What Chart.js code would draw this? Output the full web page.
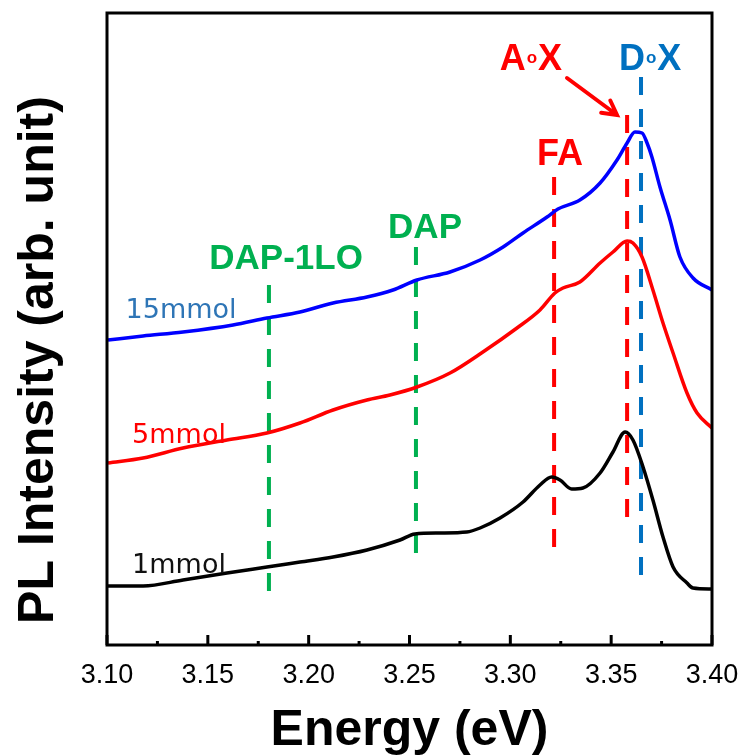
<!DOCTYPE html>
<html>
<head>
<meta charset="utf-8">
<script src="https://cdn.jsdelivr.net/npm/chart.js@4.4.1/dist/chart.umd.min.js"></script>
<style>
  html, body { margin: 0; padding: 0; background: #fff; }
  #wrap { width: 742px; height: 756px; }
</style>
</head>
<body>
<div id="wrap"><canvas id="pl"></canvas></div>
<script>
// ─── DATA (PL spectra, arb. units, curves offset as in the figure) ──
const e1 = [3.1005, 3.1179, 3.1377, 3.1595, 3.1793, 3.1957, 3.2121, 3.2289, 3.2453, 3.2527, 3.2651, 3.2784, 3.2850, 3.2949, 3.3063, 3.3147, 3.3205, 3.3246, 3.3304, 3.3360, 3.3445, 3.3509, 3.3569, 3.3608, 3.3658, 3.3707, 3.3757, 3.3807, 3.3876, 3.3906, 3.4000];
const i1 = [59, 59, 65, 72, 78, 83, 88, 95, 105, 111, 112, 113, 117, 127, 143, 160, 168, 165, 156, 157, 172, 193, 213, 205, 178, 145, 108, 78, 62, 57, 56];

const e5 = [3.1005, 3.1179, 3.1377, 3.1595, 3.1793, 3.1957, 3.2121, 3.2289, 3.2403, 3.2537, 3.2701, 3.2864, 3.3033, 3.3147, 3.3221, 3.3261, 3.3345, 3.3445, 3.3509, 3.3579, 3.3608, 3.3653, 3.3707, 3.3757, 3.3807, 3.3876, 3.3926, 3.4000];
const i5 = [182, 187, 197, 205, 212, 222, 235, 245, 250, 258, 272, 293, 317, 335, 352, 357, 363, 382, 393, 404, 402, 388, 355, 322, 292, 252, 232, 217];

const e15 = [3.1005, 3.1179, 3.1377, 3.1625, 3.1793, 3.1957, 3.2121, 3.2289, 3.2418, 3.2537, 3.2701, 3.2850, 3.2964, 3.3063, 3.3182, 3.3236, 3.3345, 3.3445, 3.3529, 3.3579, 3.3618, 3.3653, 3.3678, 3.3702, 3.3742, 3.3792, 3.3841, 3.3906, 3.4000];
const i15 = [305, 309, 313, 320, 327, 333, 342, 348, 355, 365, 373, 385, 398, 412, 428, 436, 445, 462, 485, 502, 513, 512, 502, 488, 458, 425, 388, 367, 355];

const seriesNames = ['15mmol', '5mmol', '1mmol'];

// emission lines (dashed markers)
const markerNames = ['DAP-1LO', 'DAP', 'FA', 'A°X', 'D°X'];
const markerEnergy = [3.1803, 3.2532, 3.3217, 3.3579, 3.3648];
const markerTop = [360, 398, 468, 530, 568];
const markerBottom = [47, 85, 92, 119, 65];

const xTickLabels = ['3.10', '3.15', '3.20', '3.25', '3.30', '3.35', '3.40'];

// ─── STYLE / PLACEMENT ─────────────────────────────────────────
const FONT = "'Liberation Sans', Arial, sans-serif";
const seriesColors = ['#0000ff', '#ff0000', '#000000'];
const seriesLabelColors = ['#2e75b6', '#ff0000', '#111111'];
const seriesLabelPos = [[3.1367, 334], [3.1357, 209], [3.1357, 79]];
const markerColors = ['#00b050', '#00b050', '#ff0000', '#ff0000', '#0070c0'];
const markerLabelPos = [[3.1888, 386], [3.2577, 417], [3.3246, 490], [3.3102, 585], [3.3693, 585]];
const arrowFrom = [3.3281, 567];
const arrowTo = [3.3529, 530];

const toXY = (xs, ys) => xs.map((x, k) => ({ x, y: ys[k] }));

const datasets = [
  { data: toXY(e15, i15), borderColor: seriesColors[0] },
  { data: toXY(e5, i5), borderColor: seriesColors[1] },
  { data: toXY(e1, i1), borderColor: seriesColors[2] },
].map((d, k) => ({
  ...d,
  label: seriesNames[k],
  borderWidth: 3.5,
  pointRadius: 0,
  cubicInterpolationMode: 'monotone',
  fill: false,
}));

markerNames.forEach((name, k) => {
  datasets.push({
    label: name,
    data: [{ x: markerEnergy[k], y: markerTop[k] }, { x: markerEnergy[k], y: markerBottom[k] }],
    borderColor: markerColors[k],
    borderWidth: 4,
    borderDash: [18, 14],
    pointRadius: 0,
    fill: false,
  });
});

// frame, inward ticks, annotations
const decor = {
  id: 'decor',
  afterDraw(chart) {
    const { ctx, chartArea: a, scales: { x, y } } = chart;
    ctx.save();
    ctx.strokeStyle = '#000';
    ctx.lineWidth = 3;
    ctx.strokeRect(a.left, a.top, a.right - a.left, a.bottom - a.top);

    // inward ticks on the bottom axis
    x.ticks.forEach((t, k) => {
      const px = x.getPixelForValue(t.value);
      ctx.beginPath();
      ctx.moveTo(px, a.bottom);
      ctx.lineTo(px, a.bottom - (k % 2 === 0 ? 10 : 4));
      ctx.stroke();
    });

    ctx.textAlign = 'center';
    ctx.textBaseline = 'middle';

    // curve labels
    ctx.font = `27px 'DejaVu Sans', sans-serif`;
    seriesNames.forEach((s, k) => {
      ctx.fillStyle = seriesLabelColors[k];
      ctx.fillText(s, x.getPixelForValue(seriesLabelPos[k][0]), y.getPixelForValue(seriesLabelPos[k][1]));
    });

    // marker labels (A°X / D°X drawn with a small raised "o")
    markerNames.forEach((name, k) => {
      const px = x.getPixelForValue(markerLabelPos[k][0]);
      const py = y.getPixelForValue(markerLabelPos[k][1]);
      ctx.fillStyle = markerColors[k];
      if (name.includes('°')) {
        const [a1, b1] = name.split('°');
        ctx.font = `bold 36px ${FONT}`;
        const wa = ctx.measureText(a1).width, wb = ctx.measureText(b1).width;
        ctx.font = `bold 17px ${FONT}`;
        const wo = ctx.measureText('o').width + 2;
        let cx = px - (wa + wo + wb) / 2;
        ctx.textAlign = 'left';
        ctx.font = `bold 36px ${FONT}`;
        ctx.fillText(a1, cx, py);
        ctx.font = `bold 17px ${FONT}`;
        ctx.fillText('o', cx + wa + 1, py - 2);
        ctx.font = `bold 36px ${FONT}`;
        ctx.fillText(b1, cx + wa + wo, py);
        ctx.textAlign = 'center';
      } else {
        ctx.font = `bold ${k < 2 ? 35 : 36}px ${FONT}`;
        ctx.fillText(name, px, py);
      }
    });

    // arrow to the A°X line
    const x0 = x.getPixelForValue(arrowFrom[0]), y0 = y.getPixelForValue(arrowFrom[1]);
    const x1 = x.getPixelForValue(arrowTo[0]), y1 = y.getPixelForValue(arrowTo[1]);
    const ang = Math.atan2(y1 - y0, x1 - x0);
    ctx.strokeStyle = '#ff0000';
    ctx.lineWidth = 4;
    ctx.lineCap = 'round';
    ctx.beginPath();
    ctx.moveTo(x0, y0);
    ctx.lineTo(x1, y1);
    ctx.moveTo(x1 - 16 * Math.cos(ang - 0.5), y1 - 16 * Math.sin(ang - 0.5));
    ctx.lineTo(x1, y1);
    ctx.lineTo(x1 - 16 * Math.cos(ang + 0.5), y1 - 16 * Math.sin(ang + 0.5));
    ctx.stroke();

    // y title
    ctx.translate(39, 360);
    ctx.rotate(-Math.PI / 2);
    ctx.fillStyle = '#000';
    ctx.font = `bold 50px ${FONT}`;
    ctx.fillText('PL Intensity (arb. unit)', 0, 0);
    ctx.restore();
  },
};

new Chart(document.getElementById('pl'), {
  type: 'line',
  data: { datasets },
  options: {
    responsive: true,
    maintainAspectRatio: false,
    animation: false,
    layout: { padding: { top: 13, right: 30, left: 0, bottom: 0 } },
    plugins: { legend: { display: false }, tooltip: { enabled: false } },
    scales: {
      x: {
        type: 'linear',
        min: 3.10,
        max: 3.40,
        afterFit: (s) => { s.height = 111; s.paddingLeft = 0; s.paddingRight = 0; },
        afterBuildTicks: (s) => {
          s.ticks = [];
          for (let k = 0; k <= 12; k++) s.ticks.push({ value: 3.10 + k * 0.025 });
        },
        grid: { display: false, drawTicks: false },
        border: { display: false },
        ticks: {
          autoSkip: false,
          maxRotation: 0,
          padding: 14,
          color: '#000',
          font: { family: FONT, size: 27 },
          callback: (v, k) => (k % 2 === 0 ? xTickLabels[k / 2] : ''),
        },
        title: {
          display: true,
          text: 'Energy (eV)',
          color: '#000',
          padding: 0,
          font: { family: FONT, size: 50, weight: 'bold', lineHeight: 1 },
        },
      },
      y: {
        min: 0,
        max: 632,
        afterFit: (s) => { s.width = 107; s.paddingTop = 0; s.paddingBottom = 0; },
        grid: { display: false },
        border: { display: false },
        ticks: { display: false },
      },
    },
  },
  plugins: [decor],
});
</script>
</body>
</html>
